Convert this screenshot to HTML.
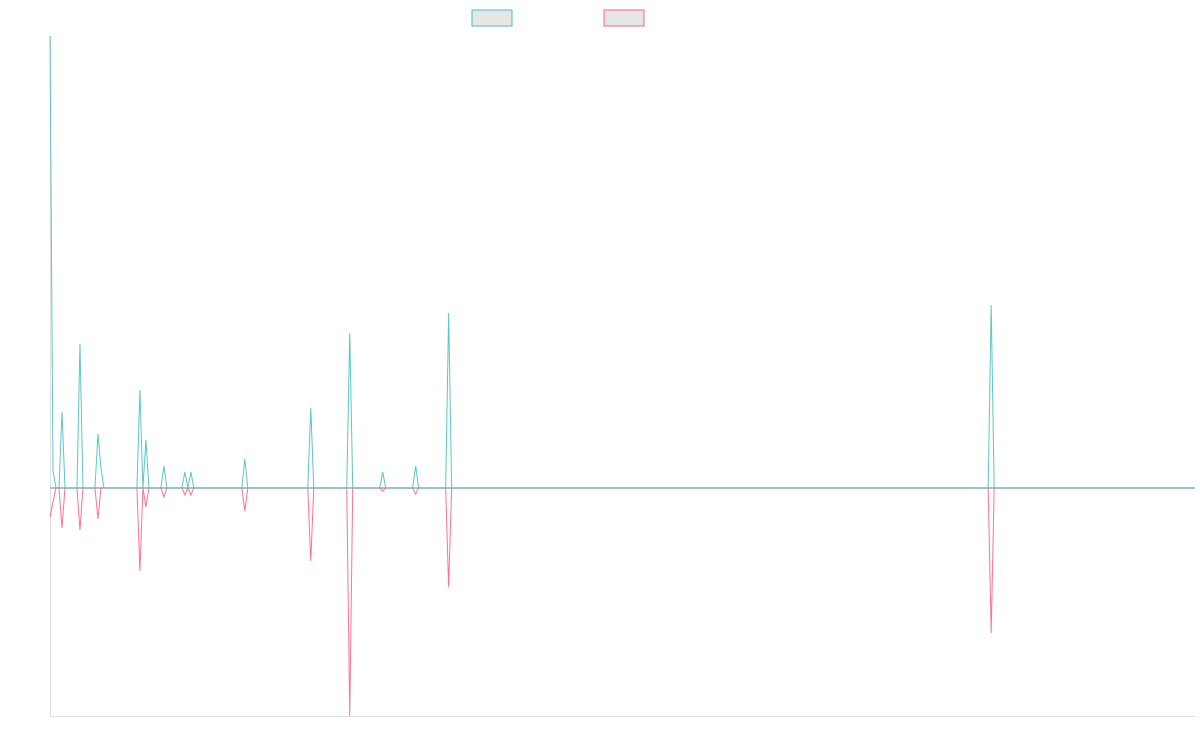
<!DOCTYPE html>
<html><head><meta charset="utf-8"><style>
html,body{margin:0;padding:0;background:#fff;width:1200px;height:750px;overflow:hidden;font-family:"Liberation Sans",sans-serif}
</style></head><body>
<svg id="chart" width="1200" height="750" xmlns="http://www.w3.org/2000/svg">
<rect x="472" y="10" width="40" height="16" fill="#e6e6e6" stroke="#4bc0c0" stroke-width="1"/>
<rect x="604" y="10" width="40" height="16" fill="#e6e6e6" stroke="#ff6384" stroke-width="1"/>
<line x1="50.5" y1="36" x2="50.5" y2="716" stroke="#e0e0e0"/>
<line x1="50" y1="716.5" x2="1195" y2="716.5" stroke="#e0e0e0"/>
<g id="plot"></g>
</svg>
<script>
// number of categories (time steps)
const pointCount = 383;
// spike events: category index and values for each series
const spikeIndex = [0, 1, 4, 10, 16, 17, 30, 32, 38, 45, 47, 65, 87, 100, 111, 122, 133, 314];
const seriesA = [452, 17, 76, 144, 54, 20, 98, 48, 22, 16, 16, 29, 80, 155, 16, 22, 175, 183];
const seriesB = [-29, -14, -40, -42, -31, 0, -83, -19, -9, -7, -7, -23, -73, -228, -3, -6, -99, -145];
const yMin = -228, yMax = 452;
const plotLeft = 50, plotRight = 1195, plotTop = 36, plotBottom = 716;
const xScale = i => plotLeft + i * (plotRight - plotLeft) / (pointCount - 1);
const yScale = v => plotBottom - (v - yMin) / (yMax - yMin) * (plotBottom - plotTop);
function build(vals) {
  const arr = new Array(pointCount).fill(0);
  spikeIndex.forEach((idx, k) => { arr[idx] = vals[k]; });
  return arr;
}
const g = document.getElementById('plot');
const ns = 'http://www.w3.org/2000/svg';
const zl = document.createElementNS(ns, 'line');


zl.setAttribute('x1', plotLeft); zl.setAttribute('x2', plotRight);
zl.setAttribute('y1', yScale(0)); zl.setAttribute('y2', yScale(0));
zl.setAttribute('stroke', '#95aab2'); zl.setAttribute('stroke-width', '1.6');
g.appendChild(zl);
[[seriesB, '#ff6384', 'series-b-line'], [seriesA, '#4bc0c0', 'series-a-line']].forEach(([vals, col, name]) => {
  const data = build(vals);
  const d = data.map((v, i) => (i ? 'L' : 'M') + xScale(i).toFixed(2) + ',' + yScale(v).toFixed(2)).join('');
  const p = document.createElementNS(ns, 'path');
  
  
  p.setAttribute('d', d);
  p.setAttribute('fill', 'none');
  p.setAttribute('stroke', col);
  p.setAttribute('stroke-width', '1');
  p.setAttribute('stroke-opacity', '0.9');
  g.appendChild(p);
});
</script>
</body></html>
